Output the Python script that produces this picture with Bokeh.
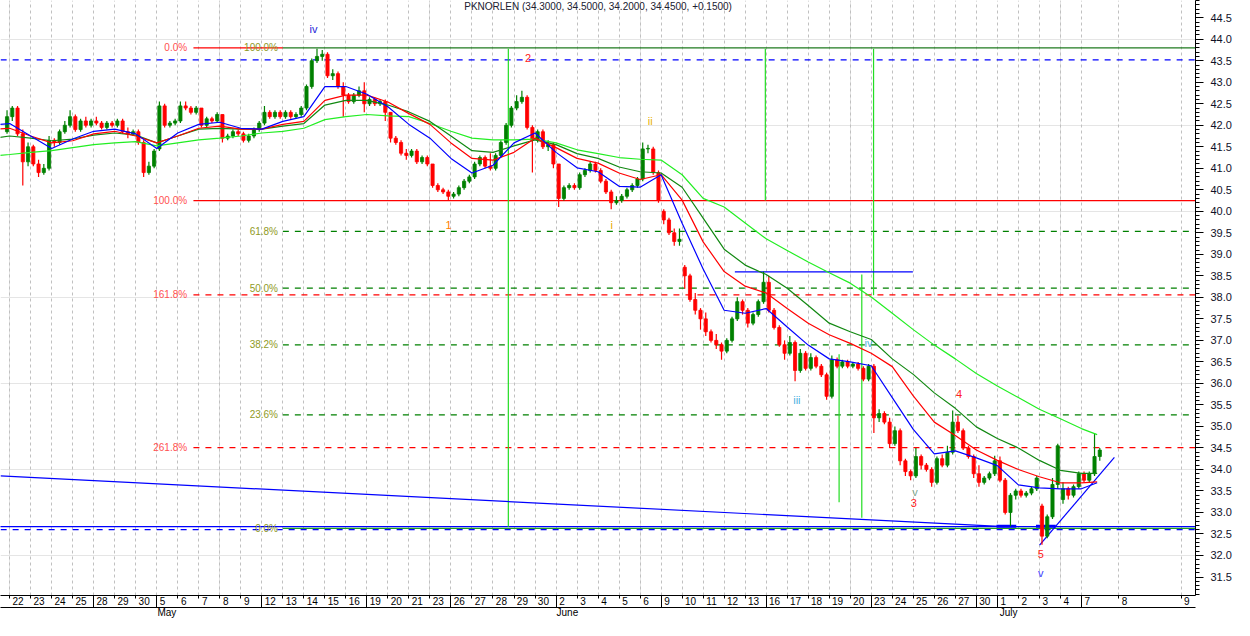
import datetime as dt
import numpy as np
from bokeh.plotting import figure
from bokeh.models import (Range1d, LinearAxis, FixedTicker, Grid,
                          PrintfTickFormatter, ColumnDataSource, Label)
from bokeh.core.properties import value
from bokeh.embed import file_html
from bokeh.resources import INLINE

# ---------------------------------------------------------------- data
title_text = "PKNORLEN (34.3000, 34.5000, 34.2000, 34.4500, +0.1500)"

trading_days = [
    "2008-04-21", "2008-04-22", "2008-04-23", "2008-04-24", "2008-04-25",
    "2008-04-28", "2008-04-29", "2008-04-30",
    "2008-05-05", "2008-05-06", "2008-05-07", "2008-05-08", "2008-05-09",
    "2008-05-12", "2008-05-13", "2008-05-14", "2008-05-15", "2008-05-16",
    "2008-05-19", "2008-05-20", "2008-05-21", "2008-05-23",
    "2008-05-26", "2008-05-27", "2008-05-28", "2008-05-29", "2008-05-30",
    "2008-06-02", "2008-06-03", "2008-06-04", "2008-06-05", "2008-06-06",
    "2008-06-09", "2008-06-10", "2008-06-11", "2008-06-12", "2008-06-13",
    "2008-06-16", "2008-06-17", "2008-06-18", "2008-06-19", "2008-06-20",
    "2008-06-23", "2008-06-24", "2008-06-25", "2008-06-26", "2008-06-27",
    "2008-06-30", "2008-07-01", "2008-07-02", "2008-07-03", "2008-07-04",
    "2008-07-07",
]
future_days = ["2008-07-08", "2008-07-09"]
bar_hours = [9, 11, 13, 15]          # 2-hour bars

opens = [41.85,
 42.20, 42.40, 41.80, 41.15,  41.50, 41.10, 40.90, 41.00,  41.65, 41.60, 41.85, 42.00,
 42.20, 41.90, 42.10, 42.00,  42.10, 42.05, 41.95, 42.05,  42.00, 42.10, 41.85, 41.80,
 41.85, 41.60, 40.90, 41.05,  41.45, 42.45, 42.00, 42.05,  42.10, 42.45, 42.40, 42.30,
 42.40, 42.00, 42.15, 42.10,  42.25, 41.70, 41.75, 41.85,  41.80, 41.65, 41.75, 41.90,
 42.05, 42.30, 42.20, 42.30,  42.20, 42.30, 42.20, 42.25,  42.40, 42.90, 43.50, 43.60,
 43.65, 43.15, 43.20, 42.90,  42.70, 42.55, 42.70, 42.80,  42.50, 42.60, 42.50, 42.55,
 42.30, 41.70, 41.60, 41.35,  41.30, 41.40, 41.15, 41.25,  41.10, 40.60, 40.50, 40.45,
 40.35, 40.40, 40.55, 40.70,  40.80, 41.10, 41.25, 41.05,  41.00, 41.30, 41.60, 42.00,
 42.40, 42.55, 42.65, 41.95,  41.65, 41.85, 41.50, 41.55,  41.10, 40.30, 40.55, 40.60,
 40.55, 40.85, 40.95, 41.10,  40.95, 40.70, 40.45, 40.20,  40.25, 40.35, 40.50, 40.60,
 40.75, 41.45, 41.45, 40.90,  40.00, 39.80, 39.50, 39.30,  38.70, 38.50, 37.95, 37.70,
 37.50, 37.20, 37.00, 36.90,  36.75, 37.00, 37.50, 37.90,  37.70, 37.40, 37.60, 37.90,
 38.35, 37.70, 37.30, 36.90,  36.70, 36.95, 36.30, 36.70,  36.35, 36.60, 36.40, 36.20,
 35.70, 36.55, 36.40, 36.50,  36.40, 36.45, 36.35, 36.10,  36.40, 35.20, 35.30, 35.10,
 34.60, 34.90, 34.20, 33.95,  33.85, 34.30, 34.10, 34.00,  33.70, 34.25, 34.10, 34.40,
 35.10, 34.90, 34.50, 34.30,  33.90, 33.70, 33.80, 33.90,  34.20, 33.75, 33.00, 33.40,
 33.50, 33.40, 33.45, 33.55,  33.15, 32.45, 32.90, 33.65,  33.30, 33.55, 33.40, 33.60,
 33.90, 33.75, 33.90, 34.30]
highs = [42.35,
 42.45, 42.45, 41.90, 41.60,  41.55, 41.20, 41.10, 41.75,  41.70, 41.90, 42.10, 42.35,
 42.25, 42.15, 42.20, 42.15,  42.20, 42.10, 42.10, 42.10,  42.15, 42.15, 41.95, 41.90,
 41.90, 41.65, 41.15, 41.45,  42.55, 42.50, 42.10, 42.15,  42.55, 42.55, 42.45, 42.45,
 42.40, 42.20, 42.20, 42.30,  42.25, 41.80, 41.90, 41.90,  41.85, 41.80, 41.95, 42.10,
 42.45, 42.35, 42.35, 42.35,  42.35, 42.35, 42.30, 42.45,  42.95, 43.55, 43.78, 43.75,
 43.70, 43.30, 43.25, 43.00,  42.75, 42.75, 42.90, 43.00,  42.65, 42.65, 42.60, 42.60,
 42.30, 41.75, 41.65, 41.45,  41.45, 41.45, 41.30, 41.30,  41.10, 40.65, 40.55, 40.50,
 40.45, 40.60, 40.75, 40.85,  41.15, 41.30, 41.30, 41.35,  41.35, 41.65, 42.05, 42.45,
 42.70, 42.80, 42.70, 42.00,  41.90, 41.90, 41.65, 41.60,  41.10, 40.60, 40.65, 40.65,
 40.90, 41.00, 41.15, 41.15,  41.00, 40.75, 40.50, 40.35,  40.40, 40.55, 40.65, 40.80,
 41.60, 41.55, 41.50, 40.95,  40.05, 39.85, 39.60, 39.60,  38.75, 38.55, 38.10, 37.75,
 37.65, 37.25, 37.15, 36.95,  37.05, 37.55, 38.00, 37.95,  37.75, 37.65, 37.95, 38.60,
 38.50, 37.75, 37.35, 37.00,  37.10, 37.00, 36.80, 36.75,  36.70, 36.65, 36.45, 36.25,
 36.65, 36.60, 36.55, 36.55,  36.50, 36.50, 36.40, 36.45,  36.45, 35.40, 35.35, 35.20,
 35.00, 34.95, 34.25, 34.00,  34.50, 34.35, 34.15, 34.05,  34.30, 34.35, 34.55, 35.37,
 35.25, 34.95, 34.55, 34.35,  34.10, 33.85, 33.95, 34.32,  34.30, 33.80, 33.45, 33.55,
 33.55, 33.50, 33.60, 33.85,  33.20, 32.95, 33.80, 34.60,  33.70, 33.60, 33.65, 33.95,
 33.95, 33.95, 34.85, 34.50]
lows = [41.80,
 42.10, 41.75, 40.60, 41.05,  41.05, 40.80, 40.85, 40.95,  41.50, 41.55, 41.80, 41.95,
 41.85, 41.85, 41.95, 41.95,  42.00, 41.90, 41.90, 41.95,  41.95, 41.80, 41.70, 41.75,
 41.55, 40.80, 40.85, 41.00,  41.40, 41.95, 41.95, 42.00,  42.05, 42.35, 42.25, 42.25,
 41.95, 41.95, 42.05, 42.05,  41.60, 41.65, 41.70, 41.75,  41.60, 41.60, 41.70, 41.85,
 42.00, 42.15, 42.15, 42.15,  42.15, 42.15, 42.15, 42.20,  42.35, 42.85, 43.45, 43.50,
 43.10, 43.05, 42.85, 42.20,  42.50, 42.50, 42.65, 42.30,  42.45, 42.45, 42.45, 42.10,
 41.60, 41.55, 41.30, 41.20,  41.25, 41.10, 41.10, 41.05,  40.55, 40.45, 40.40, 40.25,
 40.30, 40.35, 40.50, 40.65,  40.75, 41.05, 41.00, 40.95,  40.95, 41.25, 41.55, 41.95,
 42.35, 42.50, 41.90, 40.90,  41.60, 41.45, 41.40, 41.00,  40.10, 40.25, 40.50, 40.50,
 40.50, 40.80, 40.90, 40.90,  40.65, 40.40, 40.05, 40.15,  40.20, 40.30, 40.45, 40.55,
 40.70, 41.35, 40.85, 40.20,  39.70, 39.45, 39.20, 39.20,  38.20, 37.90, 37.60, 37.25,
 37.10, 36.95, 36.80, 36.55,  36.70, 36.95, 37.45, 37.60,  37.30, 37.35, 37.55, 37.85,
 37.65, 37.25, 36.85, 36.55,  36.65, 36.05, 36.25, 36.30,  36.30, 36.35, 36.15, 35.62,
 35.65, 36.35, 36.35, 36.35,  36.35, 36.30, 36.05, 36.05,  34.85, 35.10, 35.05, 34.50,
 34.55, 34.10, 33.85, 33.75,  33.80, 34.00, 33.95, 33.60,  33.65, 34.05, 34.05, 34.35,
 34.85, 34.45, 34.25, 33.80,  33.60, 33.65, 33.75, 33.85,  33.70, 32.95, 32.68, 33.30,
 33.35, 33.35, 33.40, 33.50,  32.25, 32.40, 32.85, 33.55,  33.20, 33.30, 33.35, 33.55,
 33.70, 33.70, 33.85, 34.20]
closes = [42.20,
 42.40, 41.80, 41.15, 41.50,  41.10, 40.90, 41.00, 41.65,  41.60, 41.85, 42.00, 42.20,
 41.90, 42.10, 42.00, 42.10,  42.05, 41.95, 42.05, 42.00,  42.10, 41.85, 41.80, 41.85,
 41.60, 40.90, 41.05, 41.40,  42.45, 42.00, 42.05, 42.10,  42.45, 42.40, 42.30, 42.40,
 42.00, 42.15, 42.10, 42.25,  41.70, 41.75, 41.85, 41.80,  41.65, 41.75, 41.90, 42.05,
 42.30, 42.20, 42.30, 42.20,  42.30, 42.20, 42.25, 42.40,  42.90, 43.50, 43.60, 43.65,
 43.15, 43.20, 42.90, 42.70,  42.55, 42.70, 42.80, 42.50,  42.60, 42.50, 42.55, 42.30,
 41.70, 41.60, 41.35, 41.30,  41.40, 41.15, 41.25, 41.10,  40.60, 40.50, 40.45, 40.35,
 40.40, 40.55, 40.70, 40.80,  41.10, 41.25, 41.05, 41.00,  41.30, 41.60, 42.00, 42.40,
 42.55, 42.65, 41.95, 41.65,  41.85, 41.50, 41.55, 41.10,  40.30, 40.55, 40.60, 40.55,
 40.85, 40.95, 41.10, 40.95,  40.70, 40.45, 40.20, 40.25,  40.35, 40.50, 40.60, 40.75,
 41.45, 41.45, 40.90, 40.25,  39.80, 39.50, 39.30, 39.35,  38.50, 37.95, 37.70, 37.50,
 37.20, 37.00, 36.90, 36.75,  37.00, 37.50, 37.90, 37.70,  37.40, 37.60, 37.90, 38.35,
 37.70, 37.30, 36.90, 36.70,  36.95, 36.30, 36.70, 36.35,  36.60, 36.40, 36.20, 35.70,
 36.55, 36.40, 36.50, 36.40,  36.45, 36.35, 36.10, 36.40,  35.20, 35.30, 35.10, 34.60,
 34.90, 34.20, 33.95, 33.85,  34.30, 34.10, 34.00, 33.70,  34.25, 34.10, 34.40, 35.10,
 34.90, 34.50, 34.30, 33.90,  33.70, 33.80, 33.90, 34.20,  33.75, 33.00, 33.40, 33.50,
 33.40, 33.45, 33.55, 33.80,  32.45, 32.90, 33.65, 34.55,  33.55, 33.40, 33.60, 33.90,
 33.75, 33.90, 34.30, 34.45]

# moving averages read at each session open (plus the last bar)
ma_fast = [42.00,
 42.04, 41.75, 41.46, 41.68, 41.86, 41.91, 41.80, 41.46, 41.82, 42.02, 42.07, 41.93, 41.91,
 42.09, 42.20, 42.90, 42.90, 42.72, 42.43, 42.02, 41.70, 41.23, 40.89, 41.07, 41.59, 41.82,
 41.37, 41.01, 40.92, 40.58, 40.56, 40.85, 39.72, 38.66, 37.70, 37.63, 37.74, 37.31, 36.89,
 36.57, 36.50, 36.41, 35.67, 34.93, 34.36, 34.43, 34.27, 34.09, 33.64, 33.57, 33.55, 33.55,
 33.69]
ma_mid = [41.90,
 41.93, 41.75, 41.59, 41.64, 41.80, 41.86, 41.75, 41.59, 41.75, 41.93, 41.98, 41.91, 41.91,
 42.02, 42.09, 42.58, 42.70, 42.70, 42.54, 42.27, 42.02, 41.59, 41.23, 41.19, 41.37, 41.70,
 41.48, 41.23, 41.12, 40.89, 40.74, 40.85, 40.26, 39.29, 38.60, 38.26, 38.10, 37.74, 37.40,
 37.13, 36.93, 36.70, 36.39, 35.71, 35.10, 34.79, 34.45, 34.21, 34.00, 33.83, 33.69, 33.69,
 33.71]
ma_slow = [41.68,
 41.75, 41.70, 41.64, 41.68, 41.77, 41.82, 41.77, 41.59, 41.75, 41.91, 41.93, 41.91, 41.91,
 41.98, 42.04, 42.47, 42.58, 42.58, 42.47, 42.31, 42.09, 41.75, 41.41, 41.37, 41.52, 41.66,
 41.55, 41.34, 41.23, 41.03, 40.92, 40.89, 40.56, 39.84, 39.12, 38.75, 38.53, 38.21, 37.81,
 37.40, 37.20, 37.02, 36.57, 36.21, 35.78, 35.42, 34.99, 34.72, 34.50, 34.21, 33.98, 33.91,
 33.91]
ma_long = [41.28,
 41.32, 41.37, 41.41, 41.48, 41.55, 41.59, 41.62, 41.52, 41.59, 41.66, 41.70, 41.75, 41.82,
 41.86, 41.93, 42.13, 42.20, 42.25, 42.22, 42.20, 42.04, 41.86, 41.70, 41.66, 41.66, 41.68,
 41.59, 41.43, 41.34, 41.25, 41.21, 41.19, 40.85, 40.30, 40.10, 39.73, 39.36, 39.09, 38.82,
 38.57, 38.33, 38.01, 37.63, 37.25, 36.89, 36.57, 36.23, 35.94, 35.67, 35.40, 35.18, 34.95,
 34.81]

# Fibonacci tools
red_fib_hi, red_fib_lo = 43.80, 40.25
red_fib_ratios = [0.0, 1.0, 1.618, 2.618]
red_fib_labels = ["0.0%", "100.0%", "161.8%", "261.8%"]
green_fib_hi, green_fib_lo = 43.80, 32.63
green_fib_ratios = [1.0, 0.618, 0.5, 0.382, 0.236, 0.0]
green_fib_labels = ["100.0%", "61.8%", "50.0%", "38.2%", "23.6%", "0.0%"]

# Elliott wave labels
wave_texts = ["iv", "2", "ii", "1", "i", "iii", "iv", "4", "v", "3", "5", "v"]
wave_prices = [44.23, 43.57, 42.11, 39.68, 39.68, 35.62, 36.95, 35.76, 33.48, 33.21, 32.04, 31.59]

# ---------------------------------------------------------------- layout constants
DAY0 = 1                               # Apr 22 is day 0 on the x scale
future_day_x = [52.77, 55.74]          # future sessions on the chart's time axis
wave_x = [14.46, 24.67, 30.48, 20.88, 28.65, 37.46, 40.87, 45.18, 43.08, 43.03, 49.07, 49.07]
wave_colors = ["#2424d8", "#ff2020", "#e8b000", "#ff8000", "#e8a800", "#48b0e0",
               "#48b0e0", "#ff2020", "#80a890", "#ff2020", "#ff2020", "#3c3cff"]
red_fib_x0, green_fib_x0 = 8.745, 13.0
X_END = 60


def day_x(d):
    return trading_days.index(d) - DAY0


bar_keys = [(trading_days[0], 15)] + [(d, h) for d in trading_days[1:] for h in bar_hours]
bar_x = [day_x(d) + (h + 1 - 9) / 8 for d, h in bar_keys]
ma_keys = [(trading_days[0], 9)] + [(d, 9) for d in trading_days[1:]] + [(trading_days[-1], 15)]
ma_x = [day_x(d) + (h - 9) / 8 for d, h in ma_keys]

up = [c >= o for o, c in zip(opens, closes)]
col = ["#008000" if u else "#ff0000" for u in up]
src = ColumnDataSource(dict(
    x=bar_x, high=highs, low=lows,
    top=[max(o, c) + (0.012 if abs(o - c) < 0.02 else 0) for o, c in zip(opens, closes)],
    bottom=[min(o, c) for o, c in zip(opens, closes)], color=col))

# ---------------------------------------------------------------- figure
p = figure(width=1234, height=620, output_backend="svg", toolbar_location=None,
           x_range=Range1d(-0.436, 56.43), y_range=Range1d(31.07, 44.90),
           x_axis_location=None, y_axis_location=None,
           min_border_left=0, min_border_top=0, min_border_right=0, min_border_bottom=0,
           outline_line_color=None, background_fill_color="white")

# vertical day grid
grid_ticks = [float(i) for i in range(len(trading_days) - 1)] + future_day_x
p.add_layout(Grid(dimension=0, ticker=FixedTicker(ticks=grid_ticks),
                  grid_line_color="#c0c0c0", grid_line_dash="3 3"))

# horizontal reference lines (blue)
p.segment(x0=[-1, -1, -1], y0=[43.52, 32.67, 32.60], x1=[X_END] * 3, y1=[43.52, 32.67, 32.60],
          line_color="#0000ff", line_width=1.2, line_dash=["dashed", "solid", "dashed"])

# red fib (its 0% line runs under the green tool's 100% line)
red_lvls = [red_fib_hi - r * (red_fib_hi - red_fib_lo) for r in red_fib_ratios]
red_ends = [green_fib_x0 if r == 0.0 else X_END for r in red_fib_ratios]
p.segment(x0=[red_fib_x0] * 4, y0=red_lvls, x1=red_ends, y1=red_lvls,
          line_color="#ff0000", line_width=1.2,
          line_dash=["solid", "solid", "dashed", "dashed"])
p.text(x=[red_fib_x0 - 0.3] * 4, y=red_lvls, text=red_fib_labels, text_align="right",
       text_baseline="middle", text_font_size="10px", text_color="#ff5050",
       text_font=value("Liberation Sans"))

# green fib
green_lvls = [green_fib_lo + r * (green_fib_hi - green_fib_lo) for r in green_fib_ratios]
p.segment(x0=[green_fib_x0] * 6, y0=green_lvls, x1=[X_END] * 6, y1=green_lvls,
          line_color=["#1f7a1f", "#008000", "#008000", "#008000", "#008000", "#20a020"],
          line_width=1.2,
          line_dash=["solid", "dashed", "dashed", "dashed", "dashed", "solid"])
p.text(x=[green_fib_x0 - 0.23] * 6, y=green_lvls, text=green_fib_labels, text_align="right",
       text_baseline="middle", text_font_size="10px", text_color="#8f9a1e",
       text_font=value("Liberation Sans"))

# vertical time markers
p.segment(x0=[23.73, 35.96, 41.11, 39.47, 40.55], y0=[32.67, 40.25, 38.05, 33.24, 32.88],
          x1=[23.73, 35.96, 41.11, 39.47, 40.55], y1=[43.78, 43.78, 43.78, 36.68, 38.53],
          line_color="#22dd22", line_width=1.2)

# trend lines
p.segment(x0=[-0.436, 49.01, 34.51], y0=[33.85, 32.24, 38.59],
          x1=[47.34, 52.57, 42.98], y1=[32.67, 34.28, 38.59],
          line_color="#0000ff", line_width=1.2)
p.segment(x0=[46.96, 48.84], y0=[32.68, 32.68], x1=[47.90, 49.78], y1=[32.68, 32.68],
          line_color="#0000ff", line_width=3)

# candles
p.segment(x0="x", y0="high", x1="x", y1="low", color="color", line_width=1.2, source=src)
p.vbar(x="x", width=0.15, top="top", bottom="bottom", fill_color="color",
       line_color="color", line_width=0.8, source=src)

# moving averages
p.line(ma_x, ma_long, line_color="#22ee22", line_width=1.2)
p.line(ma_x, ma_slow, line_color="#118811", line_width=1.2)
p.line(ma_x, ma_mid, line_color="#ff0000", line_width=1.2)
p.line(ma_x, ma_fast, line_color="#0000ff", line_width=1.2)

# wave labels
p.text(x=wave_x, y=wave_prices, text=wave_texts, text_color=wave_colors,
       text_align="center", text_baseline="middle", text_font_size="11px",
       text_font=value("Liberation Sans"))

p.add_layout(Label(x=28.0, y=44.75, text=title_text, text_align="center",
                   text_baseline="middle", text_font_size="10px", text_color="#202030",
                   text_font="Liberation Sans"))

# right price axis
yt = [round(v, 1) for v in np.arange(31.5, 44.51, 0.5)]
ymt = [round(v, 1) for v in np.arange(31.1, 44.91, 0.1)]
yax = LinearAxis(ticker=FixedTicker(ticks=yt, minor_ticks=ymt),
                 formatter=PrintfTickFormatter(format="%.1f"),
                 major_tick_out=8, major_tick_in=0, minor_tick_out=4, minor_tick_in=0,
                 major_label_standoff=7, major_label_text_font_size="11px",
                 major_label_text_font="Liberation Sans", major_label_text_color="#101028",
                 axis_line_color="black", major_tick_line_color="black",
                 minor_tick_line_color="black")
p.add_layout(yax, "right")

# bottom day axis
all_days = trading_days[1:] + future_days
day_starts = [float(i) for i in range(len(trading_days) - 1)] + future_day_x
day_labels = [str(int(d[8:])) for d in all_days]
day_lab_x = [round(s + (0.40 if len(l) == 2 else 0.28), 3) for s, l in zip(day_starts, day_labels)]
dax = LinearAxis(ticker=FixedTicker(ticks=day_lab_x, minor_ticks=day_starts),
                 major_label_overrides={x: l for x, l in zip(day_lab_x, day_labels)},
                 major_tick_out=0, major_tick_in=0, minor_tick_out=3, minor_tick_in=0,
                 major_label_standoff=-2, major_label_text_font_size="10px",
                 major_label_text_line_height=1.0, axis_label_standoff=0,
                 major_label_text_font="Liberation Sans", major_label_text_color="black",
                 axis_line_color="black", minor_tick_line_color="black")
p.add_layout(dax, "below")

# bottom month axis
month_names = {5: "May", 6: "June", 7: "July"}
month_pos, month_lab, week_marks = [], [], []
prev = None
for s, d in zip(day_starts, all_days):
    dd = dt.date.fromisoformat(d)
    if prev is not None and dd.month != prev.month:
        month_pos.append(round(s + 0.30 + 0.06 * len(month_names[dd.month]), 3))
        month_lab.append(month_names[dd.month])
        week_marks.append(s)
    elif dd.weekday() == 0 and s < 52:
        week_marks.append(s)
    prev = dd
max_ = LinearAxis(ticker=FixedTicker(ticks=month_pos, minor_ticks=week_marks),
                  major_label_overrides={x: l for x, l in zip(month_pos, month_lab)},
                  major_tick_out=0, major_tick_in=0, minor_tick_out=0, minor_tick_in=11,
                  major_label_standoff=-1, major_label_text_font_size="10px",
                  major_label_text_line_height=1.0, axis_label_standoff=0,
                  major_label_text_font="Liberation Sans", major_label_text_color="black",
                  axis_line_color="black", minor_tick_line_color="black")
p.add_layout(max_, "below")

open("out.html", "w").write(file_html(p, INLINE))
